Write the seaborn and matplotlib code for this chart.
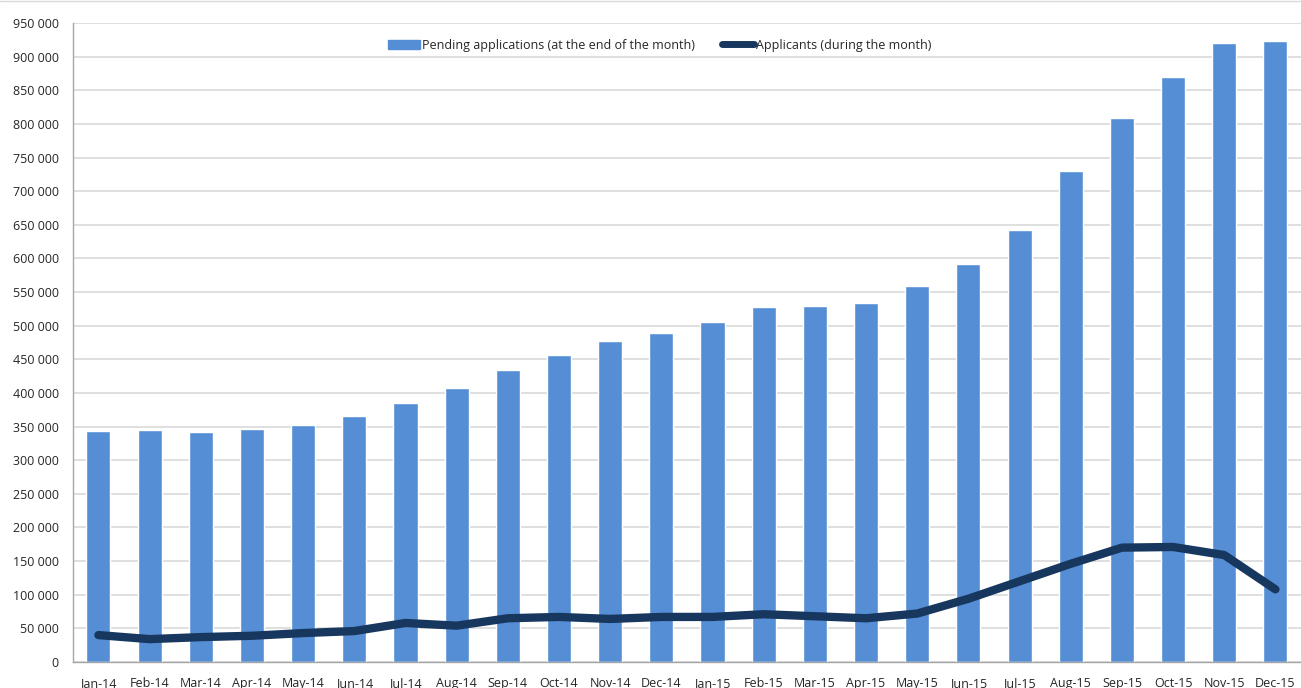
import matplotlib
matplotlib.use("Agg")
import matplotlib.pyplot as plt
import seaborn as sns
from matplotlib.ticker import FuncFormatter, MultipleLocator, FixedLocator
from matplotlib.patches import Patch
from matplotlib.lines import Line2D

months = ["Jan-14", "Feb-14", "Mar-14", "Apr-14", "May-14", "Jun-14",
          "Jul-14", "Aug-14", "Sep-14", "Oct-14", "Nov-14", "Dec-14",
          "Jan-15", "Feb-15", "Mar-15", "Apr-15", "May-15", "Jun-15",
          "Jul-15", "Aug-15", "Sep-15", "Oct-15", "Nov-15", "Dec-15"]

pending = [344000, 345000, 342000, 346500, 352000, 365700,
           385000, 407000, 434000, 456000, 477000, 489000,
           505500, 528000, 529000, 534000, 559000, 592000,
           642000, 730000, 809000, 870000, 920000, 923000]

applicants = [40000, 34000, 37000, 39000, 43000, 46000,
              58000, 54000, 65000, 67000, 64000, 67000,
              67000, 71000, 68000, 65000, 72000, 94000,
              120000, 146000, 170000, 171000, 159000, 108000]

bar_label = "Pending applications (at the end of the month)"
line_label = "Applicants (during the month)"

sns.set_style("white")
plt.rcParams["font.family"] = ["Open Sans", "DejaVu Sans"]

fig = plt.figure(figsize=(13.01, 6.88), dpi=100)
ax = fig.add_axes([0.056, 0.0378, 0.944, 0.9288])

sns.barplot(x=months, y=pending, color="#558ED5", width=0.47,
            saturation=1, ax=ax, zorder=2)
sns.lineplot(x=months, y=applicants, color="#17375E", linewidth=6,
             solid_capstyle="round", sort=False, ax=ax, zorder=3)

ax.set_xlim(-0.5, 23.5)
ax.set_ylim(0, 950000)
ax.yaxis.set_major_locator(MultipleLocator(50000))
ax.yaxis.set_major_formatter(FuncFormatter(lambda v, p: f"{int(v):,}".replace(",", " ")))
ax.grid(axis="y", color="#D9D9D9", linewidth=1.2, zorder=0)
ax.set_axisbelow(True)

for s in ["top", "right"]:
    ax.spines[s].set_visible(False)
for s in ["left", "bottom"]:
    ax.spines[s].set_color("#A6A6A6")
    ax.spines[s].set_linewidth(1)

ax.xaxis.set_minor_locator(FixedLocator([i - 0.5 for i in range(25)]))
ax.tick_params(axis="x", which="major", length=0, pad=11, labelsize=9, labelcolor="#262626")
ax.tick_params(axis="x", which="minor", length=5, color="#A6A6A6", width=1)
ax.tick_params(axis="y", length=5, color="#A6A6A6", width=1, pad=5,
               labelsize=9, labelcolor="#262626")
ax.set_xlabel("")
ax.set_ylabel("")

handles = [Patch(color="#558ED5", label=bar_label),
           Line2D([0], [0], color="#17375E", linewidth=5, solid_capstyle="round", label=line_label)]
ax.legend(handles=handles, loc="upper center", bbox_to_anchor=(0.478, 0.993),
          ncol=2, frameon=False, fontsize=9, handlelength=2.5, handletextpad=0.2,
          columnspacing=2.2)

fig.add_artist(Line2D([0, 1], [0.998, 0.998], color="#D9D9D9", linewidth=1,
                      transform=fig.transFigure))

fig.savefig("out.png", dpi=100)
